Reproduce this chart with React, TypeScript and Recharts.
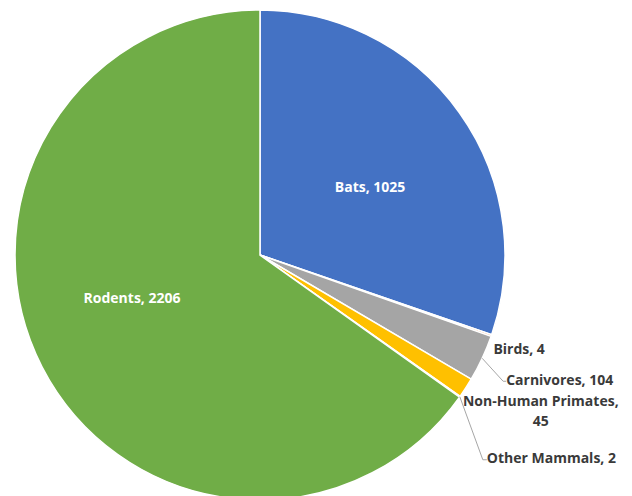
import { PieChart, Pie, Cell } from "recharts";

const categories = ["Bats", "Birds", "Carnivores", "Non-Human Primates", "Other Mammals", "Rodents"];
const counts = [1025, 4, 104, 45, 2, 2206];
const colors = ["#4472C4", "#ED7D31", "#A5A5A5", "#FFC000", "#5B9BD5", "#70AD47"];

const data = categories.map((name, i) => ({ name, value: counts[i] }));

const RADIAN = Math.PI / 180;
const FONT = "'Open Sans', 'DejaVu Sans', sans-serif";

// label placement per slice, relative to the slice geometry
type Inside = { kind: "inside"; rf: number; shift: number };
type Outside = {
  kind: "outside";
  tx: number;
  ty: number;
  anchor: "start" | "middle";
  elbow?: [number, number];
  lines?: string[];
};
const labelLayout: (Inside | Outside)[] = [
  { kind: "inside", rf: 0.53, shift: -3.5 },
  { kind: "outside", tx: 2, ty: 12, anchor: "start" },
  { kind: "outside", tx: 24, ty: 21, anchor: "start", elbow: [21, 23] },
  { kind: "outside", tx: 75, ty: 12, anchor: "middle", lines: ["Non-Human Primates,", "45"] },
  { kind: "outside", tx: 27, ty: 60, anchor: "start", elbow: [23, 63] },
  { kind: "inside", rf: 0.55, shift: -9 },
];

function renderLabel(props: any) {
  const { cx, cy, midAngle, outerRadius, index } = props;
  const layout = labelLayout[index];
  const text = `${categories[index]}, ${counts[index]}`;
  if (layout.kind === "inside") {
    const a = (midAngle + layout.shift) * RADIAN;
    const r = outerRadius * layout.rf;
    return (
      <text
        x={cx + r * Math.cos(a)}
        y={cy - r * Math.sin(a)}
        fill="#ffffff"
        fontFamily={FONT}
        fontWeight="bold"
        fontSize={14}
        textAnchor="middle"
        dominantBaseline="central"
      >
        {text}
      </text>
    );
  }
  const a = midAngle * RADIAN;
  const px = cx + outerRadius * Math.cos(a);
  const py = cy - outerRadius * Math.sin(a);
  const lines = layout.lines ?? [text];
  return (
    <g>
      {layout.elbow && (
        <polyline
          points={`${px},${py} ${px + layout.elbow[0]},${py + layout.elbow[1]} ${px + layout.tx},${py + layout.elbow[1]}`}
          fill="none"
          stroke="#a6a6a6"
          strokeWidth={1}
        />
      )}
      <text
        x={px + layout.tx}
        y={py + layout.ty}
        fill="#3a3a3a"
        fontFamily={FONT}
        fontWeight="bold"
        fontSize={14}
        textAnchor={layout.anchor}
        dominantBaseline="central"
      >
        {lines.map((l, i) => (
          <tspan key={i} x={px + layout.tx} dy={i === 0 ? 0 : 20}>
            {l}
          </tspan>
        ))}
      </text>
    </g>
  );
}

export default function App() {
  return (
    <div style={{ position: "fixed", left: 0, top: 0, width: 632, height: 496, background: "#fff" }}>
      <PieChart width={632} height={496} margin={{ top: 0, right: 0, bottom: 0, left: 0 }}>
        <Pie
          data={data}
          dataKey="value"
          nameKey="name"
          cx={260}
          cy={255}
          outerRadius={245}
          startAngle={90}
          endAngle={-270}
          stroke="#ffffff"
          strokeWidth={1.5}
          label={renderLabel}
          labelLine={false}
          isAnimationActive={false}
        >
          {data.map((d, i) => (
            <Cell key={d.name} fill={colors[i]} />
          ))}
        </Pie>
      </PieChart>
    </div>
  );
}
